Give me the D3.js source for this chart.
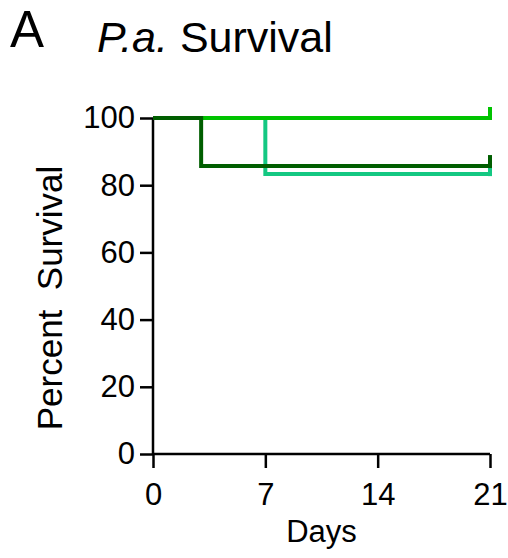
<!DOCTYPE html>
<html>
<head>
<meta charset="utf-8">
<script src="https://cdn.jsdelivr.net/npm/d3@7"></script>
<style>
  body { margin: 0; background: #fff; }
  text { font-family: "Liberation Sans", Arial, sans-serif; }
</style>
</head>
<body>
<div id="graf"></div>
<script>
// Kaplan-Meier steps: [day, percent]
const groups = ['teal', 'bright', 'dark']
const tealSteps = [[0, 100], [7, 100], [7, 83.3], [21, 83.3]]
const brightSteps = [[0, 100], [21, 100]]
const darkSteps = [[0, 100], [3, 100], [3, 85.7], [21, 85.7]]
const xTicks = [0, 7, 14, 21]
const yTicks = [0, 20, 40, 60, 80, 100]

const anchoTotal = 508
const altoTotal = 558
const margin = { top: 118, right: 18, bottom: 104, left: 153 }
const ancho = anchoTotal - margin.left - margin.right
const alto = altoTotal - margin.top - margin.bottom

const svg = d3
  .select('#graf')
  .append('svg')
  .attr('width', anchoTotal)
  .attr('height', altoTotal)

const g = svg
  .append('g')
  .attr('transform', `translate(${margin.left}, ${margin.top})`)

const x = d3.scaleLinear().domain([0, 21]).range([0, ancho])
const y = d3.scaleLinear().domain([0, 100]).range([alto, 0])
const c = d3
  .scaleOrdinal()
  .domain(groups)
  .range(['#14c882', '#00c300', '#005e00'])

const xAxis = g
  .append('g')
  .attr('transform', `translate(0, ${alto})`)
  .call(d3.axisBottom(x).tickValues(xTicks).tickSize(14).tickPadding(15))
const yAxis = g
  .append('g')
  .call(d3.axisLeft(y).tickValues(yTicks).tickSize(13).tickPadding(5))

;[xAxis, yAxis].forEach((a) => {
  a.selectAll('path').attr('stroke-width', 2.5)
  a.selectAll('line').attr('stroke-width', 2.5)
  a.selectAll('text').attr('font-size', 31).attr('fill', '#000')
})
xAxis.select('.domain').attr('d', `M0,0H${ancho}`)
yAxis.select('.domain').attr('d', `M0,${alto}V0`)

const linea = d3
  .line()
  .x((d) => x(d[0]))
  .y((d) => y(d[1]))

const series = [
  ['teal', tealSteps],
  ['bright', brightSteps],
  ['dark', darkSteps],
]

series.forEach(([k, steps]) => {
  const last = steps[steps.length - 1]
  g.append('path')
    .attr('d', linea(steps))
    .attr('fill', 'none')
    .attr('stroke', c(k))
    .attr('stroke-width', 4)
  // censor tick at end
  g.append('line')
    .attr('x1', x(last[0]))
    .attr('x2', x(last[0]))
    .attr('y1', y(last[1]) + 2)
    .attr('y2', y(last[1]) - 11)
    .attr('stroke', c(k))
    .attr('stroke-width', 4)
})

svg.append('text')
  .attr('x', margin.left + ancho / 2)
  .attr('y', 542)
  .attr('text-anchor', 'middle')
  .attr('font-size', 31)
  .text('Days')

svg.append('text')
  .attr('transform', `translate(62, 298) rotate(-90)`)
  .attr('text-anchor', 'middle')
  .attr('font-size', 35)
  .attr('xml:space', 'preserve')
  .style('white-space', 'pre')
  .text('Percent  Survival')

svg.append('text')
  .attr('x', 10)
  .attr('y', 47)
  .attr('font-size', 51)
  .text('A')

const titulo = svg.append('text').attr('x', 97).attr('y', 52).attr('font-size', 43)
titulo.append('tspan').attr('font-style', 'italic').text('P.a.')
titulo.append('tspan').text(' Survival')
</script>
</body>
</html>
